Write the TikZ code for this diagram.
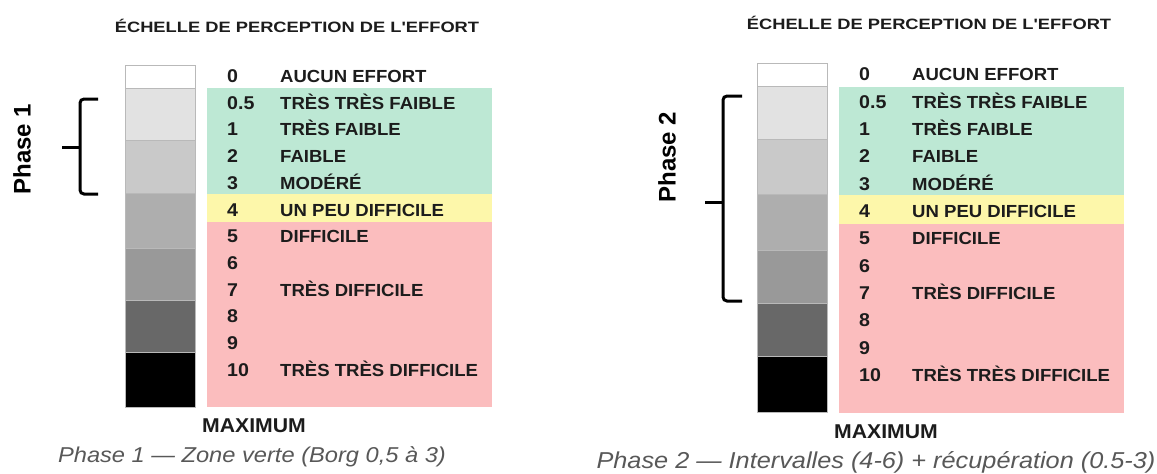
\documentclass[tikz,border=0pt]{standalone}
\usepackage{fontspec}
\setmainfont{Liberation Sans}
\newfontfamily\lblfont[FakeStretch=1.06]{Liberation Sans}
\newfontfamily\ttlfont[FakeStretch=1.22]{Liberation Sans}
\newfontfamily\cptfont[FakeStretch=1.1]{Liberation Sans}
\definecolor{inkc}{RGB}{28,28,28}
\definecolor{capc}{RGB}{88,88,88}
\definecolor{greenb}{RGB}{189,232,212}
\definecolor{yellowb}{RGB}{253,247,170}
\definecolor{pinkb}{RGB}{251,189,190}
\definecolor{segA}{RGB}{226,226,226}
\definecolor{segB}{RGB}{201,201,201}
\definecolor{segC}{RGB}{174,174,174}
\definecolor{segD}{RGB}{153,153,153}
\definecolor{segE}{RGB}{104,104,104}
\definecolor{segline}{RGB}{185,185,185}
\tikzset{
  lbl/.style={anchor=base west, inner sep=0pt, text=inkc, font={\lblfont\bfseries\fontsize{17.5}{19}\selectfont}},
  numlbl/.style={anchor=base west, inner sep=0pt, text=inkc, font={\lblfont\bfseries\fontsize{18.5}{19}\selectfont}},
  ttl/.style={anchor=base, inner sep=0pt, text=inkc, font={\ttlfont\bfseries\fontsize{15}{16}\selectfont}},
  maxi/.style={anchor=base, inner sep=0pt, text=inkc, font={\lblfont\bfseries\fontsize{20}{21}\selectfont}},
  phaselbl/.style={inner sep=0pt, text=black, rotate=90, font={\bfseries\fontsize{24}{26}\selectfont}},
  cpt/.style={anchor=base, inner sep=0pt, text=capc, font={\cptfont\itshape\fontsize{#1}{#1}\selectfont}},
  seg/.style={draw=segline, line width=0.8pt},
  bracket/.style={draw=black, line width=3pt, rounded corners=4pt},
  band/.style={draw=none}
}
\newcommand\effortpanel[1]{%
  % colour bands
  \path[band, fill=greenb]  (207,88)  rectangle (492,194);
  \path[band, fill=yellowb] (207,194) rectangle (492,222);
  \path[band, fill=pinkb]   (207,222) rectangle (492,407);
  % grey column
  \foreach \ya/\yb/\c in {65/88/white, 88/140/segA, 140/193/segB, 193/248/segC, 248/300/segD, 300/352/segE, 352/407/black}
    \path[seg, fill=\c] (125,\ya) rectangle (195,\yb);
  % title
  \node[ttl] (#1title) at (297,32) {ÉCHELLE DE PERCEPTION DE L'EFFORT};
  % rows
  \foreach \n/\t [count=\i] in {0/AUCUN EFFORT, 0.5/TRÈS TRÈS FAIBLE, 1/TRÈS FAIBLE, 2/FAIBLE, 3/MODÉRÉ, 4/UN PEU DIFFICILE, 5/DIFFICILE, 6/{}, 7/TRÈS DIFFICILE, 8/{}, 9/{}, 10/TRÈS TRÈS DIFFICILE}{
    \pgfmathsetmacro\yy{82.5+26.7*(\i-1)}
    \node[numlbl] (#1n\i) at (227,\yy) {\n};
    \node[lbl] (#1l\i) at (280,\yy) {\t};
  }
  \node[maxi] (#1max) at (254,432) {MAXIMUM};
}
\begin{document}
\begin{tikzpicture}[x=1pt, y=-1pt]
  \fill[white] (0,0) rectangle (1157,474);
  \useasboundingbox (0,0) rectangle (1157,474);

  % left panel
  \effortpanel{L}
  \node[phaselbl] (ph1) at (22,149) {Phase 1};
  \coordinate (b1t) at (98,99);
  \coordinate (b1b) at (98,194);
  \draw[bracket] (b1t) -- (80,99) -- (80,194) -- (b1b);
  \draw[bracket] (80,147) -- (62,147);
  \node[cpt=21.5] (cap1) at (252,462) {Phase 1 — Zone verte (Borg 0,5 à 3)};

  % right panel
  \begin{scope}[shift={(632,-3.5)}, yscale=1.023]
    \effortpanel{R}
  \end{scope}
  \node[phaselbl] (ph2) at (667,157) {Phase 2};
  \coordinate (b2t) at (742,96);
  \coordinate (b2b) at (742,301);
  \draw[bracket] (b2t) -- (723,96) -- (723,301) -- (b2b);
  \draw[bracket] (723,202) -- (705,202);
  \node[cpt=23] (cap2) at (876,468) {Phase 2 — Intervalles (4-6) + récupération (0.5-3)};
\end{tikzpicture}
\end{document}
